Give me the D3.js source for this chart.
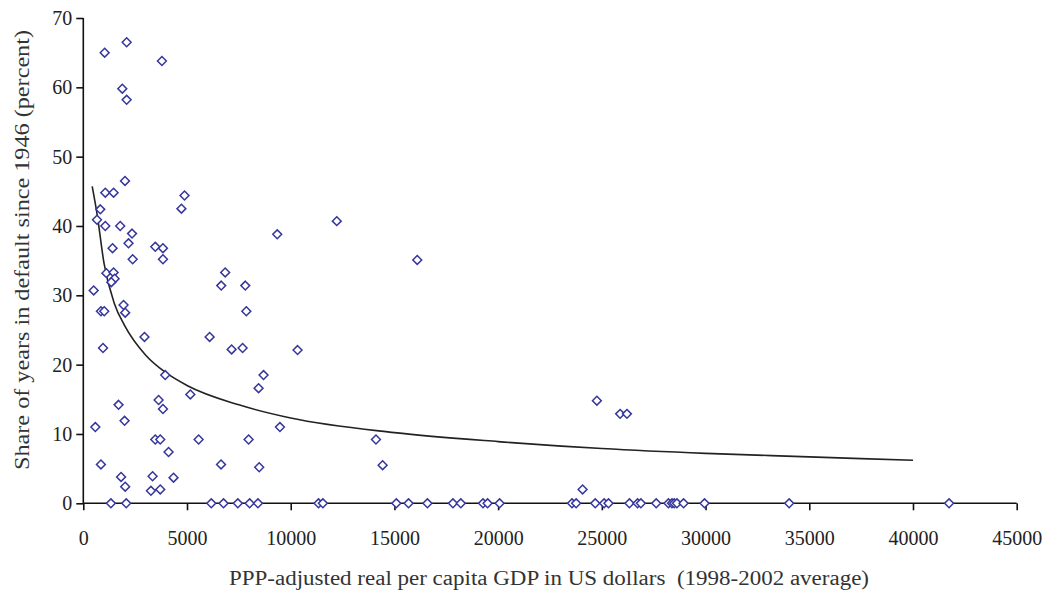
<!DOCTYPE html>
<html>
<title>Share of years in default vs GDP per capita</title>
<style>
  body {
    margin: 0px;
    background: white;
  }
  svg {
    display: block;
  }
  .axis text {
    font-family: "Liberation Serif", "Times New Roman", serif;
    font-size: 20px;
    fill: #222;
  }
  .axis path, .axis line {
    stroke: #111;
    stroke-width: 1.6;
  }
  .label {
    font-family: "Liberation Serif", "Times New Roman", serif;
    font-size: 20px;
    fill: #333;
  }
  .trend {
    fill: none;
    stroke: #222;
    stroke-width: 1.6;
  }
  .pt {
    fill: white;
    stroke: #36369c;
    stroke-width: 1.5;
  }
</style>
<script src="https://cdn.jsdelivr.net/npm/d3@7"></script>
<body>
<svg></svg>
<script>

// countries with some default history: gdp per capita and share of years in default
const gdpDefault = [
  1030, 2090, 3790, 1880, 2090, 2010, 1060, 1460, 4880, 4730,
  820, 660, 1060, 1780, 2350, 9350, 12220, 2180, 1410, 3470,
  3840, 2380, 3840, 16100, 6840, 1110, 1460, 1510, 1350, 500,
  6650, 7810, 850, 1010, 1940, 2020, 7860, 2950, 6090, 950,
  7150, 7680, 10330, 3950, 8690, 8450, 5160, 3630, 1700, 3840,
  1990, 580, 9480, 3470, 3710, 5560, 7970, 14110, 4110, 850,
  6640, 8480, 14430, 1820, 3340, 4350, 2020, 3260, 3710, 24760,
  25880, 26210, 24070
];
const shareDefault = [
  65.0, 66.5, 63.8, 59.8, 58.2, 46.5, 44.8, 44.8, 44.4, 42.5,
  42.4, 40.9, 40.0, 40.0, 38.9, 38.8, 40.7, 37.5, 36.8, 37.0,
  36.8, 35.2, 35.2, 35.1, 33.3, 33.2, 33.3, 32.4, 31.9, 30.7,
  31.4, 31.4, 27.7, 27.7, 28.6, 27.5, 27.7, 24.0, 24.0, 22.4,
  22.2, 22.4, 22.1, 18.5, 18.5, 16.6, 15.7, 14.9, 14.2, 13.6,
  11.9, 11.0, 11.0, 9.2, 9.2, 9.2, 9.2, 9.2, 7.4, 5.6,
  5.6, 5.2, 5.5, 3.8, 3.9, 3.7, 2.4, 1.8, 2.0, 14.8,
  12.9, 12.9, 2.0
];

// countries that never defaulted (share = 0)
const gdpNoDefault = [
  1330, 2070, 6170, 6760, 7450, 8020, 8420, 11340, 11550, 15090,
  15680, 16590, 17820, 18200, 19270, 19490, 20070, 23560, 23760, 24680,
  25110, 25320, 26330, 26720, 26880, 27620, 28210, 28380, 28490, 28620,
  28940, 29950, 34030, 41740
];

// fitted trend line
const trendGdp =   [430, 660, 1000, 1500, 2000, 3000, 4000, 5000, 7500, 10000, 15000, 20000, 25000, 30000, 35000, 40000];
const trendShare = [45.7, 41.8, 34.6, 28.8, 25.6, 21.4, 18.8, 17.0, 14.2, 12.3, 10.2, 8.9, 7.9, 7.2, 6.7, 6.2];

const xTicks = d3.range(0, 45001, 5000);
const yTicks = d3.range(0, 71, 10);

const W = 1053, H = 597;
const margin = {left: 83.3, right: W - 1016.7, top: 18, bottom: H - 503.3};

const svg = d3.select("svg")
    .attr("width", W)
    .attr("height", H);

const x = d3.scaleLinear()
    .domain([0, 45000])
    .range([margin.left, W - margin.right]);

const y = d3.scaleLinear()
    .domain([0, 70])
    .range([H - margin.bottom, margin.top]);

// axes
const xAxis = svg.append("g")
    .attr("class", "axis")
    .attr("transform", "translate(0," + y(0) + ")")
    .call(d3.axisBottom(x).tickValues(xTicks).tickSize(7).tickPadding(21).tickFormat(d3.format("d")));
xAxis.select(".domain").attr("d", "M" + x(0) + ",0H" + x(45000));

const yAxis = svg.append("g")
    .attr("class", "axis")
    .attr("transform", "translate(" + x(0) + ",0)")
    .call(d3.axisLeft(y).tickValues(yTicks).tickSize(7).tickPadding(4).tickFormat(d3.format("d")));
yAxis.select(".domain").attr("d", "M0," + y(70) + "V" + y(0));

// trend curve
const trendData = trendGdp.map((d, i) => [d, trendShare[i]]);
svg.append("path")
    .datum(trendData)
    .attr("class", "trend")
    .attr("d", d3.line()
        .curve(d3.curveMonotoneX)
        .x(d => x(d[0]))
        .y(d => y(d[1])));

// points
const pts = gdpDefault.map((d, i) => [d, shareDefault[i]])
    .concat(gdpNoDefault.map(d => [d, 0]));

const diamond = d3.symbol().type(d3.symbolDiamond2).size(50);

svg.append("g")
  .selectAll("path")
  .data(pts)
  .join("path")
    .attr("class", "pt")
    .attr("transform", d => "translate(" + x(d[0]) + "," + y(d[1]) + ")")
    .attr("d", diamond);

// axis titles
svg.append("text")
    .attr("class", "label")
    .attr("x", 549)
    .attr("y", 585)
    .attr("text-anchor", "middle")
    .attr("textLength", 640)
    .attr("lengthAdjust", "spacingAndGlyphs")
    .attr("xml:space", "preserve")
    .text("PPP-adjusted real per capita GDP in US dollars  (1998-2002 average)");

svg.append("text")
    .attr("class", "label")
    .attr("transform", "translate(29,250) rotate(-90)")
    .attr("text-anchor", "middle")
    .attr("textLength", 440)
    .attr("lengthAdjust", "spacingAndGlyphs")
    .text("Share of years in default since 1946 (percent)");

</script>
</body>
</html>
